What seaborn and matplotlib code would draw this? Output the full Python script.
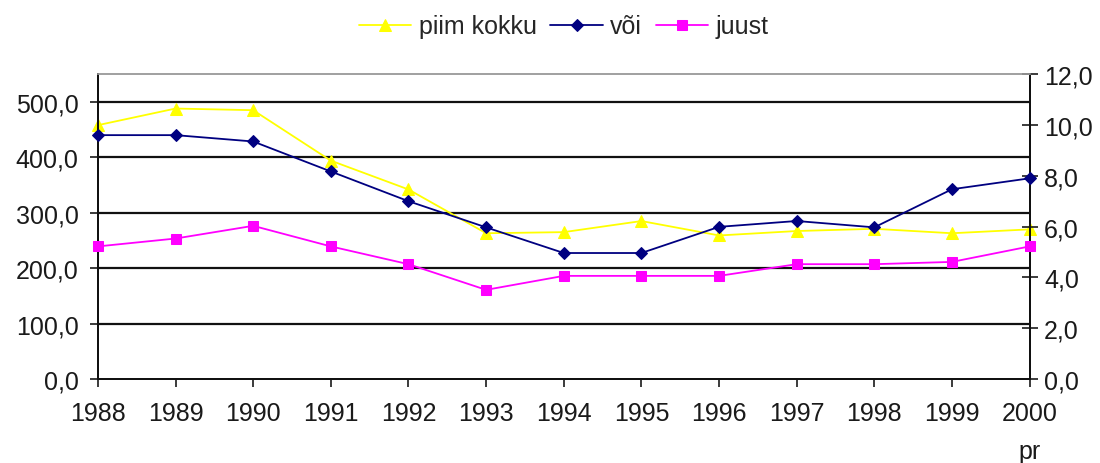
"""Piima, või ja juustu tarbimine 1988-2000"""

import matplotlib
matplotlib.use("Agg")
import matplotlib.pyplot as plt
import matplotlib.ticker as mticker
import seaborn as sns

sns.set_style("white")
plt.rcParams["font.family"] = ["Liberation Sans", "DejaVu Sans"]

YEARS = [1988, 1989, 1990, 1991, 1992, 1993, 1994, 1995, 1996, 1997, 1998, 1999, 2000]
YEAR_LABELS = [str(y) for y in YEARS[:-1]] + ["2000\npr"]

# left axis
PIIM = [458, 488, 485, 394, 342, 263, 265, 285, 259, 267, 271, 263, 270]
# right axis
VOI = [9.6, 9.6, 9.35, 8.17, 7.0, 5.97, 4.96, 4.96, 5.99, 6.22, 5.97, 7.47, 7.9]
JUUST = [5.22, 5.53, 6.03, 5.22, 4.52, 3.51, 4.06, 4.06, 4.06, 4.52, 4.52, 4.61, 5.22]

YELLOW = "#ffff00"
NAVY = "#000080"
MAGENTA = "#ff00ff"
TXT = "#1a1a1a"
FS = 18


def comma_fmt(v, _):
    return f"{v:.1f}".replace(".", ",")


def main():
    fig, ax = plt.subplots(figsize=(11, 4.64), dpi=100)
    fig.subplots_adjust(left=0.089, right=0.936, bottom=0.181, top=0.838)
    ax2 = ax.twinx()

    sns.lineplot(x=YEARS, y=PIIM, ax=ax, color=YELLOW, marker="^", markersize=9,
                 markeredgecolor=YELLOW, linewidth=1.3, label="piim kokku",
                 clip_on=False, zorder=3)
    sns.lineplot(x=YEARS, y=VOI, ax=ax2, color=NAVY, marker="D", markersize=6.5,
                 markeredgecolor=NAVY, linewidth=1.3, label="või",
                 clip_on=False, zorder=3)
    sns.lineplot(x=YEARS, y=JUUST, ax=ax2, color=MAGENTA, marker="s", markersize=7,
                 markeredgecolor=MAGENTA, linewidth=1.3, label="juust",
                 clip_on=False, zorder=3)

    ax.set_xlim(1988, 2000)
    ax.set_ylim(0, 550)
    ax2.set_ylim(0, 12)
    ax.set_yticks(range(0, 501, 100))
    ax2.set_yticks(range(0, 13, 2))
    ax.yaxis.set_major_formatter(mticker.FuncFormatter(comma_fmt))
    ax2.yaxis.set_major_formatter(mticker.FuncFormatter(comma_fmt))
    ax.set_xticks(YEARS)
    ax.set_xticklabels(YEAR_LABELS, linespacing=1.75, va="top")

    for y in range(100, 501, 100):
        ax.axhline(y, color="#111111", linewidth=1.6, zorder=1)

    ax.tick_params(axis="y", direction="out", length=6, width=1.2, pad=8,
                   labelsize=FS, colors=TXT, left=True)
    ax.tick_params(axis="x", direction="out", length=6, width=1.2, pad=10,
                   labelsize=FS, colors=TXT, bottom=True)
    ax2.tick_params(axis="y", direction="inout", length=11, width=1.2, pad=5,
                    labelsize=FS, colors=TXT, right=True)

    for a in (ax, ax2):
        for side in ("left", "right", "bottom"):
            a.spines[side].set_color("#111111")
            a.spines[side].set_linewidth(1.4)
        a.spines["top"].set_color("#a0a0a0")
        a.spines["top"].set_linewidth(1.2)
        a.set_xlabel("")
        a.set_ylabel("")

    h1, l1 = ax.get_legend_handles_labels()
    h2, l2 = ax2.get_legend_handles_labels()
    ax.get_legend().remove()
    ax2.get_legend().remove()
    ax2.legend(h1 + h2, l1 + l2, loc="lower center", bbox_to_anchor=(0.5, 1.085),
               ncol=3, frameon=False, fontsize=FS, handlelength=2.1,
               handletextpad=0.3, columnspacing=0.55, borderaxespad=0)

    fig.savefig("out.png", dpi=100)
    plt.close(fig)


if __name__ == "__main__":
    main()
